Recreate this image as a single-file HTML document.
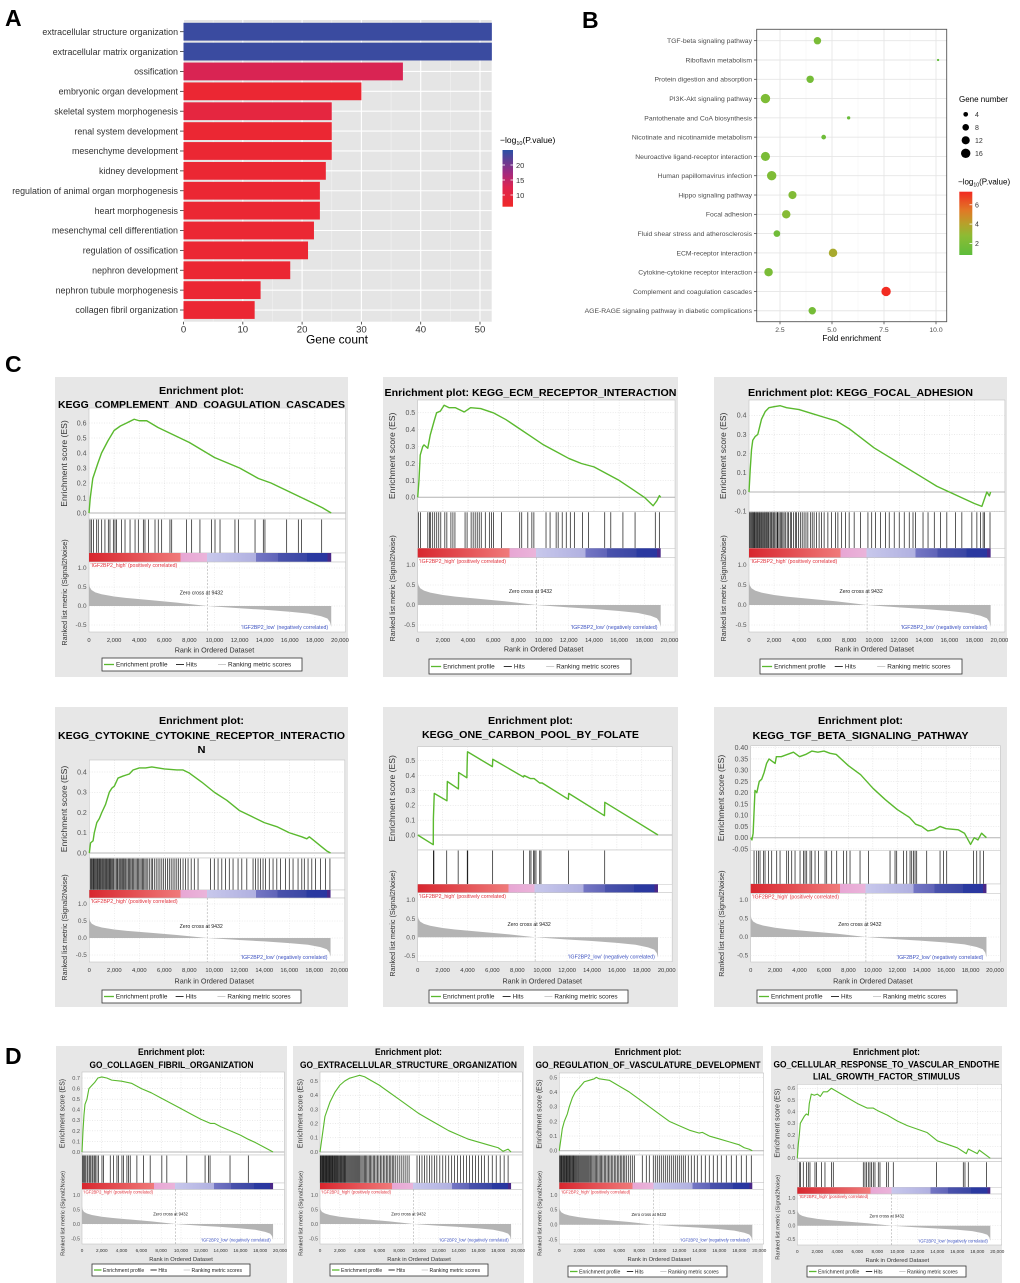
<!DOCTYPE html>
<html><head><meta charset="utf-8"><title>Enrichment figure</title>
<style>
html,body{margin:0;padding:0;background:#fff;}
svg{display:block;font-family:"Liberation Sans",Arial,sans-serif;}
</style></head>
<body>
<svg id="fig" width="1020" height="1283" viewBox="0 0 1020 1283" xmlns="http://www.w3.org/2000/svg">
<defs>
<linearGradient id="aLegGrad" x1="0" y1="1" x2="0" y2="0"><stop offset="0" stop-color="#f02828"/><stop offset="0.35" stop-color="#dd2450"/><stop offset="0.6" stop-color="#a02a80"/><stop offset="1" stop-color="#2a50a5"/></linearGradient>
<linearGradient id="bLegGrad" x1="0" y1="1" x2="0" y2="0"><stop offset="0" stop-color="#5dbd3b"/><stop offset="0.3" stop-color="#8cbb34"/><stop offset="0.5" stop-color="#b8a02a"/><stop offset="0.7" stop-color="#e07a26"/><stop offset="1" stop-color="#f22a22"/></linearGradient>
<linearGradient id="cbGrad" x1="0" y1="0" x2="1" y2="0"><stop offset="0" stop-color="#d8262e"/><stop offset="0.378" stop-color="#f07a7a"/><stop offset="0.378" stop-color="#e8a6d4"/><stop offset="0.487" stop-color="#eab4da"/><stop offset="0.487" stop-color="#c8c8ec"/><stop offset="0.69" stop-color="#b0b0e0"/><stop offset="0.69" stop-color="#7476c4"/><stop offset="0.78" stop-color="#6064b8"/><stop offset="0.78" stop-color="#4a52ac"/><stop offset="0.9" stop-color="#3a46a4"/><stop offset="0.9" stop-color="#2a3aa0"/><stop offset="0.985" stop-color="#2a36a0"/><stop offset="0.985" stop-color="#4a2888"/><stop offset="1" stop-color="#4a2888"/></linearGradient>
</defs>
</svg>
<script>
// ---------- Panel A data ----------
const aCategories=["extracellular structure organization","extracellular matrix organization","ossification","embryonic organ development","skeletal system morphogenesis","renal system development","mesenchyme development","kidney development","regulation of animal organ morphogenesis","heart morphogenesis","mesenchymal cell differentiation","regulation of ossification","nephron development","nephron tubule morphogenesis","collagen fibril organization"];
const aCounts=[52,52,37,30,25,25,25,24,23,23,22,21,18,13,12];
const aLogP=[24,24,13,8,10,8,8,8,8,8,8,8,8,8,8];
const aTicks=[0,10,20,30,40,50];
const aLegendTicks=[10,15,20];
// ---------- Panel B data ----------
const bCategories=["TGF-beta signaling pathway","Riboflavin metabolism","Protein digestion and absorption","PI3K-Akt signaling pathway","Pantothenate and CoA biosynthesis","Nicotinate and nicotinamide metabolism","Neuroactive ligand-receptor interaction","Human papillomavirus infection","Hippo signaling pathway","Focal adhesion","Fluid shear stress and atherosclerosis","ECM-receptor interaction","Cytokine-cytokine receptor interaction","Complement and coagulation cascades","AGE-RAGE signaling pathway in diabetic complications"];
const bFold=[4.3,10.1,3.95,1.8,5.8,4.6,1.8,2.1,3.1,2.8,2.35,5.05,1.95,7.6,4.05];
const bGenes=[10,1,10,16,2,4,15,16,12,13,8,13,13,16,10];
const bLogP=[2.0,1.0,1.8,2.2,1.3,1.5,2.0,2.2,2.3,2.5,1.6,3.6,2.0,7.3,1.8];
const bTicks=[2.5,5.0,7.5,10.0];
const bSizeLegend=[4,8,12,16];
const bColorTicks=[2,4,6];
// ---------- GSEA shared ----------
const rankTicks=[0,2000,4000,6000,8000,10000,12000,14000,16000,18000,20000];
const metricRanks=[0,50,200,500,1000,2000,3000,5000,7000,9432,12000,14000,16000,17500,18500,19000,19200,19300];
const metricVals=[0.6,0.5,0.42,0.36,0.31,0.25,0.21,0.15,0.09,0,-0.06,-0.1,-0.15,-0.2,-0.27,-0.33,-0.42,-0.55];
const c1Ranks=[0,100,300,500,700,1000,1500,2000,2500,3000,3600,4000,4600,5500,6500,8000,10000,12000,13500,14500,16000,17000,18000,18600,19300];
const c1ES=[0,0.1,0.23,0.28,0.33,0.4,0.48,0.55,0.58,0.6,0.625,0.615,0.615,0.57,0.53,0.47,0.37,0.3,0.23,0.2,0.14,0.1,0.06,0.035,0];
const c1Hits=[80,210,350,610,740,1010,1270,1540,1670,1940,2070,2200,2600,2870,3270,3670,3930,4330,4460,4730,5260,5520,5790,6450,6590,7780,8180,8840,9770,10040,10440,11630,11900,13230,13890,14020,15750,16680,16940,18540];
const c2Ranks=[0,100,200,400,500,800,1000,1300,1500,1800,2100,2500,3000,3700,4200,5000,6000,7000,8000,9000,10000,11000,12000,13000,14000,15000,16000,17000,18000,18700,19000,19200,19300];
const c2ES=[0,0.1,0.25,0.3,0.31,0.29,0.37,0.45,0.5,0.51,0.545,0.53,0.53,0.505,0.53,0.525,0.5,0.46,0.41,0.36,0.31,0.27,0.23,0.2,0.18,0.14,0.1,0.05,0,-0.05,-0.02,0.01,0];
const c2Hits=[64,225,804,932,1029,1190,1350,1511,1672,1833,2154,2315,2637,2797,2958,3762,3923,4244,4405,4566,4727,4887,5048,5370,5691,5852,6013,6656,8102,8263,8745,9067,9228,10192,10514,10996,11157,11479,11800,12122,12443,13086,13568,14854,15336,16300,17265,18872,19194];
const c3Ranks=[0,100,200,300,500,700,1000,1300,1600,2000,2500,3000,4000,5000,6000,7000,8000,9000,10000,11000,12000,13000,14000,15000,16000,17000,18000,18600,19000,19200,19300];
const c3ES=[0,0.12,0.22,0.27,0.29,0.3,0.38,0.42,0.44,0.445,0.45,0.44,0.43,0.41,0.39,0.37,0.33,0.28,0.23,0.19,0.15,0.11,0.07,0.03,0,-0.03,-0.06,-0.075,0,-0.02,0];
const c3Hits=[50,120,200,260,330,400,450,520,600,650,720,800,870,950,1000,1080,1150,1230,1300,1380,1450,1530,1600,1700,1780,1850,1950,2050,2150,2250,2300,2400,2500,2600,2700,2800,2900,3050,3150,3300,3400,3550,3700,3800,3950,4100,4250,4400,4550,4700,4900,5050,5200,5400,5600,5800,6000,6300,6600,6900,7100,7400,7700,8000,8400,8900,9500,9800,10100,10500,10900,11200,11600,12000,12400,12800,13100,13300,13900,14300,14800,15300,15800,16500,17000,17800,18200,18500,18700,18800,19250];
const c4Ranks=[0,100,300,400,600,800,1000,1300,1600,1800,2000,2300,2700,3200,3500,4000,4500,5000,5500,6000,7000,7500,8000,9000,10000,11000,12000,13000,14000,15000,16000,17000,17400,17600,18000,18500,19000,19300];
const c4ES=[0,0.05,0.06,0.1,0.15,0.17,0.2,0.24,0.3,0.32,0.33,0.37,0.38,0.39,0.41,0.42,0.42,0.425,0.42,0.415,0.41,0.41,0.395,0.35,0.3,0.26,0.21,0.18,0.15,0.13,0.1,0.08,0.07,0.08,0.06,0.035,0.01,0];
const c4Hits=[80,150,220,300,360,430,500,580,640,700,780,850,920,1000,1060,1130,1200,1280,1350,1420,1500,1580,1650,1720,1800,1880,1950,2050,2150,2230,2300,2400,2480,2560,2650,2730,2800,2900,3000,3100,3180,3260,3350,3450,3550,3650,3750,3850,3950,4050,4150,4250,4350,4450,4550,4680,4800,4950,5050,5200,5350,5500,5650,5800,5950,6100,6250,6400,6550,6700,6850,7000,7150,7300,7500,7700,7900,8150,8400,8700,9700,10000,10300,10600,10900,11200,11500,11900,12200,12600,13100,13300,13500,13700,13900,14100,14400,14700,15000,15300,15700,16000,16300,16700,17000,17200,17500,17800,18100,18500,18900,19250];
const c5Ranks=[0,1250,1260,1330,2350,2380,3270,3290,3950,3970,4000,6000,6030,8500,8550,9050,9350,9800,10000,12100,12130,15000,15030,19300];
const c5ES=[0,-0.065,0.11,0.28,0.23,0.36,0.31,0.42,0.385,0.47,0.56,0.46,0.51,0.39,0.4,0.38,0.38,0.35,0.35,0.24,0.28,0.13,0.22,0];
const c5Hits=[1260,1300,2330,3250,3980,4020,6020,8500,9000,9100,9300,9400,9500,9800,9900,12120,15020];
const c6Ranks=[0,100,200,350,500,700,900,1100,1300,1500,2000,2100,2500,3000,3500,4000,4500,5000,5500,6000,6500,7000,8000,9000,10000,11000,12000,13000,13500,14000,14500,15000,15500,16000,17000,17500,18000,18300,18600,18900,19300];
const c6ES=[0,-0.01,0.02,0.21,0.2,0.25,0.26,0.29,0.33,0.35,0.33,0.36,0.36,0.37,0.38,0.36,0.37,0.385,0.38,0.385,0.375,0.37,0.32,0.28,0.22,0.17,0.125,0.09,0.06,0.05,0.03,0.035,0.05,0.04,0.035,0.02,-0.03,0,-0.01,0.02,0];
const c6Hits=[273,491,628,764,1037,1173,1446,1719,2129,2402,2947,3084,3357,3630,4039,4312,4448,4585,4858,4994,5267,5540,6086,6222,6631,7041,7587,7860,8132,8951,9633,11407,11816,11953,12499,12772,13045,13181,13318,13454,13590,14409,15501,15774,16046,18230,18503,18776,19048];
const d1Ranks=[0,100,200,300,500,700,1000,1300,1600,2000,2500,3000,4000,5000,6000,7000,8000,9000,10000,11000,12000,13000,13400,14000,15000,16000,16800,17500,18500,19300];
const d1ES=[0,0.2,0.35,0.45,0.5,0.6,0.63,0.66,0.7,0.71,0.7,0.68,0.67,0.65,0.6,0.56,0.51,0.46,0.41,0.36,0.31,0.27,0.27,0.24,0.2,0.16,0.12,0.09,0.04,0];
const d1Hits=[67,168,269,336,504,605,773,840,1008,1109,1243,1344,1512,1680,2016,2184,2856,3192,3528,3696,4032,4200,4536,4704,4872,5544,6216,6888,8064,8568,10584,12432,12768,12936,14952,16800];
const d2Ranks=[0,200,500,1000,1500,2000,2500,3000,3500,4000,4500,5000,6000,7000,8000,9000,10000,11000,12000,13000,14000,15000,16000,17000,18000,18500,19000,19300];
const d2ES=[0,0.1,0.25,0.35,0.42,0.47,0.5,0.52,0.53,0.54,0.53,0.51,0.47,0.42,0.37,0.32,0.27,0.23,0.19,0.15,0.12,0.09,0.07,0.05,0.03,0.005,0.02,0];
const d2Hits=[30,90,150,210,270,330,390,450,510,570,630,690,750,810,870,930,990,1050,1110,1170,1230,1300,1370,1440,1510,1580,1650,1720,1800,1880,1960,2040,2120,2200,2280,2360,2440,2520,2600,2700,2800,2900,3000,3100,3200,3300,3400,3500,3600,3700,3800,3900,4000,4120,4240,4360,4480,4600,4720,4850,4980,5110,5240,5380,5520,5660,5800,5950,6100,6250,6400,6550,6700,6850,7000,7150,7300,7450,7600,7800,8000,8200,8400,8600,8800,9000,9800,10050,10300,10550,10800,11050,11300,11550,11800,12100,12400,12700,13000,13300,13600,13900,14200,14500,14800,15100,15400,15700,16000,16300,16600,17000,17400,17800,18200,18600,19000];
const d3Ranks=[0,100,300,500,800,1000,1300,1600,2000,2500,3000,3500,3700,4000,5000,6000,7000,8000,9000,10000,11000,12000,13000,14000,14300,15000,16000,17000,18000,18500,19000,19300];
const d3ES=[0,0.05,0.15,0.2,0.25,0.3,0.36,0.4,0.43,0.47,0.48,0.49,0.5,0.49,0.48,0.44,0.4,0.35,0.3,0.25,0.2,0.17,0.14,0.12,0.125,0.1,0.08,0.06,0.04,0.02,0.01,0];
const d3Hits=[40,110,180,250,320,400,470,540,610,690,760,830,900,980,1060,1140,1220,1300,1380,1460,1550,1640,1730,1820,1910,2000,2100,2200,2300,2400,2500,2600,2700,2800,2900,3000,3120,3240,3360,3480,3600,3720,3850,3980,4100,4230,4360,4500,4640,4780,4920,5060,5200,5350,5500,5650,5800,5950,6100,6250,6400,6550,6700,6900,7100,7300,7500,8300,8700,9000,9400,9600,9800,10000,10200,10400,10600,10800,11000,11200,11400,11600,11800,12000,12200,12400,12600,12900,13200,13500,13800,14200,14600,15000,15400,15800,16200,16700,17200,17700,18200,18700,19200];
const d4Ranks=[0,100,200,300,500,700,900,1100,1200,1400,1700,2000,2300,2600,3000,3400,4000,5000,6000,7000,7600,8000,9000,10000,11000,12000,13000,14000,15000,16000,16900,17100,18000,18200,19300];
const d4ES=[0,0.12,0.2,0.3,0.33,0.36,0.38,0.37,0.47,0.55,0.54,0.55,0.53,0.57,0.57,0.6,0.57,0.52,0.47,0.43,0.43,0.41,0.37,0.32,0.28,0.25,0.22,0.15,0.12,0.09,0.04,0.08,0.04,0.07,0];
const d4Hits=[200,333,600,933,1100,1267,1767,1933,2433,2767,3433,3600,6600,6767,6933,7100,7267,7433,7600,7767,8100,8267,8933,9100,9600,13933,16600,16767,17100,18933];

const NS='http://www.w3.org/2000/svg';
const svg=document.getElementById('fig');
function mk(tag,attrs,parent,text){const e=document.createElementNS(NS,tag);for(const k in attrs)e.setAttribute(k,attrs[k]);if(text!==undefined)e.textContent=text;(parent||svg).appendChild(e);return e;}
function lerpColor(stops,t){t=Math.max(0,Math.min(1,t));for(let i=1;i<stops.length;i++){if(t<=stops[i][0]){const a=stops[i-1],b=stops[i];const u=(t-a[0])/(b[0]-a[0]||1);const ca=a[1],cb=b[1];const c=[0,1,2].map(k=>Math.round(ca[k]+(cb[k]-ca[k])*u));return 'rgb('+c.join(',')+')';}}return 'rgb('+stops[stops.length-1][1].join(',')+')';}

[['A',5,26],['B',582,28],['C',5,372],['D',5,1064]].forEach(l=>{
  const t=mk('text',{x:l[1],y:l[2],'font-size':23,'font-weight':'bold',fill:'#000'},svg,l[0]);
  
  
});

(function(){
  const g=mk('g',{},svg);
  
  
  const x=v=>183.5+v*5.93, y=i=>31.7+i*19.88;
  const bg=mk('rect',{x:183.5,y:20,width:308.2,height:301.7,fill:'#e5e5e5'},g);
  
  
  for(let v=5;v<=50;v+=10){mk('line',{x1:x(v),x2:x(v),y1:20,y2:321.7,stroke:'#f2f2f2','stroke-width':0.6},g);}
  aTicks.forEach(v=>{mk('line',{x1:x(v),x2:x(v),y1:20,y2:321.7,stroke:'#fff','stroke-width':1.1},g);});
  aCategories.forEach((c,i)=>{mk('line',{x1:183.5,x2:491.7,y1:y(i),y2:y(i),stroke:'#fff','stroke-width':1.1},g);});
  const cs=[[0,[240,40,40]],[0.35,[221,36,80]],[0.6,[160,42,128]],[1,[42,80,165]]];
  aCategories.forEach((c,i)=>{
    const b=mk('rect',{x:x(0),y:y(i)-8.9,width:x(aCounts[i])-x(0),height:17.8,fill:lerpColor(cs,(aLogP[i]-6.1)/(25-6.1))},g);
    
    
    const t=mk('text',{x:178,y:y(i)+3.2,'font-size':8.9,'text-anchor':'end',fill:'#333'},g,c);
    
    
    mk('line',{x1:180,x2:183.5,y1:y(i),y2:y(i),stroke:'#333','stroke-width':0.8},g);
  });
  aTicks.forEach(v=>{
    mk('line',{x1:x(v),x2:x(v),y1:321.7,y2:324.5,stroke:'#333','stroke-width':0.8},g);
    const t=mk('text',{x:x(v),y:332.5,'font-size':9.6,'text-anchor':'middle',fill:'#333'},g,String(v));
    
    
  });
  const xt=mk('text',{x:337,y:343.5,'font-size':12,'text-anchor':'middle',fill:'#000'},g,'Gene count');
  
  
  const lt=mk('text',{x:500,y:143,'font-size':8.5,fill:'#000'},g);
  
  
  lt.innerHTML='−log<tspan font-size="5.5" dy="2">10</tspan><tspan dy="-2">(P.value)</tspan>';
  const lb=mk('rect',{x:502.5,y:150,width:10.5,height:56.7,fill:'url(#aLegGrad)'},g);
  
  
  const ly=v=>195-(v-10)*3;
  aLegendTicks.forEach(v=>{
    mk('line',{x1:502.5,x2:505,y1:ly(v),y2:ly(v),stroke:'#fff','stroke-width':0.8},g);
    mk('line',{x1:510.5,x2:513,y1:ly(v),y2:ly(v),stroke:'#fff','stroke-width':0.8},g);
    const t=mk('text',{x:516,y:ly(v)+2.8,'font-size':7.5,fill:'#333'},g,String(v));
    
    
  });
})();

(function(){
  const g=mk('g',{},svg);
  
  
  const x=v=>780+(v-2.5)*20.8, y=i=>40.7+i*19.29;
  const L=756.7,R=946.7,T=29.3,B=321.7;
  mk('rect',{x:L,y:T,width:R-L,height:B-T,fill:'#fff'},g);
  [1.25,3.75,6.25,8.75].forEach(v=>{mk('line',{x1:x(v),x2:x(v),y1:T,y2:B,stroke:'#f3f3f3','stroke-width':0.6},g);});
  bTicks.forEach(v=>{mk('line',{x1:x(v),x2:x(v),y1:T,y2:B,stroke:'#e6e6e6','stroke-width':0.9},g);});
  bCategories.forEach((c,i)=>{mk('line',{x1:L,x2:R,y1:y(i),y2:y(i),stroke:'#e6e6e6','stroke-width':0.9},g);});
  const cs=[[0,[93,189,59]],[0.3,[140,187,52]],[0.5,[184,160,42]],[0.7,[224,122,38]],[1,[242,42,34]]];
  bCategories.forEach((c,i)=>{
    const d=mk('circle',{cx:x(bFold[i]),cy:y(i),r:1.175*Math.sqrt(bGenes[i]),fill:lerpColor(cs,(bLogP[i]-0.8)/(7.35-0.8))},g);
    
    
    const t=mk('text',{x:752,y:y(i)+2.4,'font-size':6.8,'text-anchor':'end',fill:'#4d4d4d'},g,c);
    
    
    mk('line',{x1:754,x2:756.7,y1:y(i),y2:y(i),stroke:'#333','stroke-width':0.7},g);
  });
  mk('rect',{x:L,y:T,width:R-L,height:B-T,fill:'none',stroke:'#555','stroke-width':0.9},g);
  bTicks.forEach(v=>{
    mk('line',{x1:x(v),x2:x(v),y1:B,y2:B+2.5,stroke:'#333','stroke-width':0.7},g);
    const t=mk('text',{x:x(v),y:332,'font-size':6.8,'text-anchor':'middle',fill:'#4d4d4d'},g,v.toFixed(1));
    
    
  });
  const xt=mk('text',{x:851.7,y:341,'font-size':8.2,'text-anchor':'middle',fill:'#000'},g,'Fold enrichment');
  
  
  const st=mk('text',{x:959,y:102,'font-size':8,fill:'#000'},g,'Gene number');
  
  
  bSizeLegend.forEach((n,i)=>{
    const yy=114.3+i*13;
    const c=mk('circle',{cx:965.7,cy:yy,r:1.175*Math.sqrt(n),fill:'#000'},g);
    
    
    const t=mk('text',{x:975,y:yy+2.6,'font-size':7,fill:'#333'},g,String(n));
    
    
  });
  const ct=mk('text',{x:958,y:184.5,'font-size':8,fill:'#000'},g);
  
  
  ct.innerHTML='−log<tspan font-size="5.2" dy="2">10</tspan><tspan dy="-2">(P.value)</tspan>';
  const cb=mk('rect',{x:959.3,y:191.7,width:13,height:63.3,fill:'url(#bLegGrad)'},g);
  
  
  const ly=v=>255-(v-0.8)*9.66;
  bColorTicks.forEach(v=>{
    mk('line',{x1:969.5,x2:972.3,y1:ly(v),y2:ly(v),stroke:'#fff','stroke-width':0.8},g);
    const t=mk('text',{x:975,y:ly(v)+2.6,'font-size':7,fill:'#333'},g,String(v));
    
    
  });
})();

function gsea(p,ranks,es,hits){
  const s=p.fs;
  const xOf=r=>p.x0+(p.x20-p.x0)*r/20000;
  const right=p.x20+(p.x20-p.x0)*0.022;
  const ey=v=>p.esZero-v*p.esPer;
  const ry=v=>p.rk0-v*(p.rk0-p.rk1);
  const g=mk('g',{},svg);
  
  
  const box=mk('rect',{x:p.box[0],y:p.box[1],width:p.box[2],height:p.box[3],fill:'#e7e7e7'},g);
  
  
  const cx=p.box[0]+p.box[2]/2;
  const tfs=s===1?10.5:8.8;
  p.titles.forEach(tl=>{
    const t=mk('text',{x:cx,y:tl[1]+3.8*s,'font-size':tfs,'font-weight':'bold','text-anchor':'middle',fill:'#000',textLength:tl[2],lengthAdjust:'spacingAndGlyphs'},g,tl[0]);
    
    
  });
  mk('rect',{x:p.x0,y:p.esTop,width:right-p.x0,height:p.esBot-p.esTop,fill:'#fff',stroke:'#c4c4c4','stroke-width':0.6},g);
  rankTicks.forEach(r=>{if(r>0&&r<20000)mk('line',{x1:xOf(r),x2:xOf(r),y1:p.esTop,y2:p.esBot,stroke:'#d6d6d6','stroke-width':0.5,'stroke-dasharray':'1,1.5'},g);});
  p.esTicks.forEach(v=>{
    mk('line',{x1:p.x0,x2:right,y1:ey(v),y2:ey(v),stroke:v===0?'#b4b4b4':'#d6d6d6','stroke-width':v===0?1:0.5,'stroke-dasharray':v===0?'none':'1,1.5'},g);
    const t=mk('text',{x:p.x0-2.5*s,y:ey(v)+2.4*s,'font-size':7*s,'text-anchor':'end',fill:'#555'},g,v.toFixed(p.esDec));
    
    
  });
  const yl=mk('text',{x:0,y:0,'font-size':8.6*s,'text-anchor':'middle',fill:'#333',transform:'translate('+(p.ylx+3*s)+','+((p.esTop+p.esBot)/2)+') rotate(-90)'},g,'Enrichment score (ES)');
  
  
  const pts=ranks.map((r,i)=>xOf(r).toFixed(2)+','+ey(es[i]).toFixed(2)).join(' ');
  const line=mk('polyline',{points:pts,fill:'none',stroke:'#5ab92e','stroke-width':1.4*s,'stroke-linejoin':'round'},g);
  
  
  mk('rect',{x:p.x0,y:p.esBot,width:right-p.x0,height:p.hitsBot-p.esBot,fill:'#fff',stroke:'#c4c4c4','stroke-width':0.6},g);
  hits.forEach(r=>{
    const h=mk('line',{x1:xOf(r),x2:xOf(r),y1:p.esBot+0.5,y2:p.hitsBot,stroke:'#222','stroke-width':0.75},g);
    
    
  });
  mk('rect',{x:p.x0,y:p.hitsBot,width:right-p.x0,height:p.cbBot-p.hitsBot,fill:'#fff',stroke:'#c4c4c4','stroke-width':0.5},g);
  const cbar=mk('rect',{x:p.x0,y:p.hitsBot,width:xOf(19300)-p.x0,height:p.cbBot-p.hitsBot,fill:'url(#cbGrad)'},g);
  
  
  mk('rect',{x:p.x0,y:p.cbBot,width:right-p.x0,height:p.rkBot-p.cbBot,fill:'#fff',stroke:'#c4c4c4','stroke-width':0.6},g);
  rankTicks.forEach(r=>{if(r>0&&r<20000)mk('line',{x1:xOf(r),x2:xOf(r),y1:p.cbBot,y2:p.rkBot,stroke:'#dedede','stroke-width':0.5,'stroke-dasharray':'1,1.5'},g);});
  [1,0.5,0,-0.5].forEach(v=>{
    mk('line',{x1:p.x0,x2:right,y1:ry(v),y2:ry(v),stroke:'#dedede','stroke-width':0.5,'stroke-dasharray':'1,1.5'},g);
    const t=mk('text',{x:p.x0-2.5*s,y:ry(v)+2.2*s,'font-size':6.4*s,'text-anchor':'end',fill:'#555'},g,v.toFixed(1));
    
    
  });
  let d='M'+xOf(metricRanks[0]).toFixed(2)+','+ry(0).toFixed(2);
  metricRanks.forEach((r,i)=>{d+=' L'+xOf(r).toFixed(2)+','+ry(metricVals[i]).toFixed(2);});
  d+=' L'+xOf(19300).toFixed(2)+','+ry(0).toFixed(2)+' Z';
  const area=mk('path',{d:d,fill:'#b4b4b4',stroke:'none'},g);
  
  
  mk('line',{x1:xOf(9432),x2:xOf(9432),y1:p.cbBot,y2:p.rkBot,stroke:'#999','stroke-width':0.5,'stroke-dasharray':'2,1.5'},g);
  const hi=mk('text',{x:p.x0+1.5,y:p.cbBot+5.2*s,'font-size':5.2*s,fill:'#e0303a'},g,"'IGF2BP2_high' (positively correlated)");
  
  
  const zc=mk('text',{x:xOf(9432)-6*s,y:p.rk0-(p.rk0-p.rk1)*0.3,'font-size':5.2*s,'text-anchor':'middle',fill:'#222'},g,'Zero cross at 9432');
  
  
  const lo=mk('text',{x:xOf(19050),y:p.rkBot-3*s,'font-size':5.2*s,'text-anchor':'end',fill:'#3a50c0'},g,"'IGF2BP2_low' (negatively correlated)");
  
  
  const yl2=mk('text',{x:0,y:0,'font-size':7.2*s,'text-anchor':'middle',fill:'#333',transform:'translate('+(p.ylx+3*s)+','+((p.esBot+p.axTitleY)/2+8*s)+') rotate(-90)'},g,'Ranked list metric (Signal2Noise)');
  
  
  rankTicks.forEach(r=>{
    const t=mk('text',{x:xOf(r),y:p.tickY+2.2*s,'font-size':5.8*s,'text-anchor':'middle',fill:'#333'},g,r.toLocaleString('en-US'));
    
    
  });
  const xt=mk('text',{x:(p.x0+p.x20)/2,y:p.axTitleY+2.6*s,'font-size':7.2*s,'text-anchor':'middle',fill:'#333'},g,'Rank in Ordered Dataset');
  
  
  const [l1,t1,l2,t2]=p.legend;
  const lg=mk('g',{},g);
  
  
  mk('rect',{x:l1,y:t1,width:l2-l1,height:t2-t1,fill:'#fff',stroke:'#333','stroke-width':0.8},lg);
  const w=l2-l1, my=(t1+t2)/2, fz=6.4*s;
  mk('line',{x1:l1+2,x2:l1+w*0.06,y1:my,y2:my,stroke:'#5ab92e','stroke-width':1.3},lg);
  const e1=mk('text',{x:l1+w*0.07,y:my+2.2*s,'font-size':fz,fill:'#222'},lg,'Enrichment profile');
  
  
  mk('line',{x1:l1+w*0.37,x2:l1+w*0.41,y1:my,y2:my,stroke:'#333','stroke-width':1},lg);
  const e2=mk('text',{x:l1+w*0.42,y:my+2.2*s,'font-size':fz,fill:'#222'},lg,'Hits');
  
  
  mk('line',{x1:l1+w*0.58,x2:l1+w*0.62,y1:my,y2:my,stroke:'#ccc','stroke-width':1},lg);
  const e3=mk('text',{x:l1+w*0.63,y:my+2.2*s,'font-size':fz,fill:'#222'},lg,'Ranking metric scores');
  
  
}

const rowC={hitsBot:553,cbBot:562,rk1:568,rk0:606,rkBot:632,tickY:640,axTitleY:650};
gsea(Object.assign({},rowC,{name:'gsea-kegg-complement',fs:1,box:[55,377,293,300],titles:[['Enrichment plot:',390,85],['KEGG_COMPLEMENT_AND_COAGULATION_CASCADES',404,287]],x0:89,x20:340,esTop:408,esBot:519,esZero:513,esPer:150,esTicks:[0,0.1,0.2,0.3,0.4,0.5,0.6],esDec:1,ylx:64,legend:[102,658,302,671]}),c1Ranks,c1ES,c1Hits);
gsea({name:'gsea-kegg-ecm-receptor',fs:1,box:[383,377,295,300],titles:[['Enrichment plot: KEGG_ECM_RECEPTOR_INTERACTION',392,292]],x0:417.7,x20:669.5,esTop:400,esBot:511.7,esZero:497.3,esPer:169,esTicks:[0,0.1,0.2,0.3,0.4,0.5],esDec:1,ylx:392,hitsBot:548.3,cbBot:557.7,rk1:565,rk0:605,rkBot:632,tickY:640,axTitleY:649,legend:[429,659,631,674]},c2Ranks,c2ES,c2Hits);
gsea({name:'gsea-kegg-focal-adhesion',fs:1,box:[714,377,293,300],titles:[['Enrichment plot: KEGG_FOCAL_ADHESION',392,225]],x0:749,x20:999.4,esTop:400,esBot:511.7,esZero:492,esPer:191.7,esTicks:[-0.1,0,0.1,0.2,0.3,0.4],esDec:1,ylx:723,hitsBot:548.3,cbBot:557.7,rk1:565,rk0:605,rkBot:632,tickY:640,axTitleY:649,legend:[760,659,962,674]},c3Ranks,c3ES,c3Hits);
gsea({name:'gsea-kegg-cytokine-receptor',fs:1,box:[55,707,293,300],titles:[['Enrichment plot:',720,85],['KEGG_CYTOKINE_CYTOKINE_RECEPTOR_INTERACTIO',735,287],['N',749,8]],x0:89.3,x20:339.3,esTop:760,esBot:858,esZero:853,esPer:202.5,esTicks:[0,0.1,0.2,0.3,0.4],esDec:1,ylx:64,hitsBot:890,cbBot:898,rk1:904,rk0:938,rkBot:962,tickY:970,axTitleY:981,legend:[102,990,301,1003]},c4Ranks,c4ES,c4Hits);
gsea({name:'gsea-kegg-one-carbon',fs:1,box:[383,707,295,300],titles:[['Enrichment plot:',720,85],['KEGG_ONE_CARBON_POOL_BY_FOLATE',734,217]],x0:417.7,x20:666.7,esTop:746.7,esBot:850,esZero:835,esPer:148.6,esTicks:[0,0.1,0.2,0.3,0.4,0.5],esDec:1,ylx:392,hitsBot:884.3,cbBot:892.7,rk1:900,rk0:937.3,rkBot:961.7,tickY:970,axTitleY:981,legend:[429,990,628,1003]},c5Ranks,c5ES,c5Hits);
gsea({name:'gsea-kegg-tgf-beta',fs:1,box:[714,707,293,300],titles:[['Enrichment plot:',720,85],['KEGG_TGF_BETA_SIGNALING_PATHWAY',735,216]],x0:750.7,x20:995,esTop:745.7,esBot:850.3,esZero:837.7,esPer:225,esTicks:[-0.05,0,0.05,0.1,0.15,0.2,0.25,0.3,0.35,0.4],esDec:2,ylx:721,hitsBot:884,cbBot:893.3,rk1:900,rk0:937,rkBot:962,tickY:970,axTitleY:981,legend:[757,990,957,1003]},c6Ranks,c6ES,c6Hits);
const rowD={fs:0.8,hitsBot:1183,cbBot:1189.5,rk1:1195,rk0:1224,rkBot:1244,tickY:1250,axTitleY:1259};
gsea(Object.assign({},rowD,{name:'gsea-go-collagen-fibril',box:[56,1046,231,237],titles:[['Enrichment plot:',1052,67],['GO_COLLAGEN_FIBRIL_ORGANIZATION',1065,164]],x0:82,x20:280,esTop:1072,esBot:1155,esZero:1152,esPer:105.7,esTicks:[0,0.1,0.2,0.3,0.4,0.5,0.6,0.7],esDec:1,ylx:62,legend:[92,1264,250,1276]}),d1Ranks,d1ES,d1Hits);
gsea(Object.assign({},rowD,{name:'gsea-go-extracellular-structure',box:[293,1046,231,237],titles:[['Enrichment plot:',1052,67],['GO_EXTRACELLULAR_STRUCTURE_ORGANIZATION',1065,217]],x0:320,x20:518,esTop:1072,esBot:1155,esZero:1152,esPer:142,esTicks:[0,0.1,0.2,0.3,0.4,0.5],esDec:1,ylx:300,legend:[330,1264,488,1276]}),d2Ranks,d2ES,d2Hits);
gsea({name:'gsea-go-vasculature-development',fs:0.8,box:[533,1046,230,237],titles:[['Enrichment plot:',1052,67],['GO_REGULATION_OF_VASCULATURE_DEVELOPMENT',1065,225]],x0:559.3,x20:759.3,esTop:1073,esBot:1155,esZero:1150.7,esPer:146.7,esTicks:[0,0.1,0.2,0.3,0.4,0.5],esDec:1,ylx:539,hitsBot:1182.7,cbBot:1189.3,rk1:1195,rk0:1224.7,rkBot:1244,tickY:1250,axTitleY:1259,legend:[568,1266,727,1277]},d3Ranks,d3ES,d3Hits);
gsea({name:'gsea-go-vegf-response',fs:0.8,box:[771,1046,231,237],titles:[['Enrichment plot:',1052,67],['GO_CELLULAR_RESPONSE_TO_VASCULAR_ENDOTHE',1064.3,226],['LIAL_GROWTH_FACTOR_STIMULUS',1076.7,147]],x0:797.3,x20:997.3,esTop:1084.3,esBot:1161.7,esZero:1158.3,esPer:116.7,esTicks:[0,0.1,0.2,0.3,0.4,0.5,0.6],esDec:1,ylx:777,hitsBot:1187.3,cbBot:1194,rk1:1198.3,rk0:1225.7,rkBot:1245,tickY:1251,axTitleY:1260,legend:[807,1266,966,1277]},d4Ranks,d4ES,d4Hits);
</script>
</body></html>
